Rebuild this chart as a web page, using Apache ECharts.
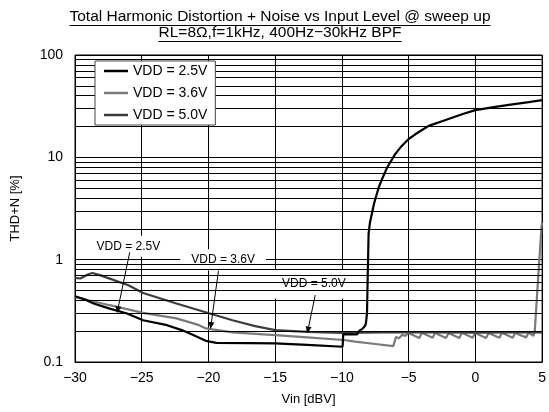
<!DOCTYPE html>
<html><head><meta charset="utf-8">
<script src="https://cdn.jsdelivr.net/npm/echarts@6/dist/echarts.min.js"></script>
<style>html,body{margin:0;padding:0;background:#fff}#c{width:549px;height:412px}</style>
</head><body><div id="c"></div>
<script>
// THD+N vs input level, three supply voltages (sweep up)
const seriesNames = ['VDD = 2.5V', 'VDD = 3.6V', 'VDD = 5.0V'];

const vin25 = [-30,-29.3,-28.6,-27.4,-26.1,-24.9,-23.1,-22,-21.1,-20.2,-19.4,-17,-15,-12.6,-9.95,-9.9,-8.85,-8.8,-8.72,-8.62,-8.55,-8.45,-8.38,-8.28,-8.2,-8.12,-8.06,-8.0,-7.9,-7.6,-7.24,-7.0,-6.62,-6.3,-6.0,-5.5,-5.0,-4.5,-4.0,-3.5,-2.5,-1.0,0,1.5,2.5,4,5];
const thd25 = [0.439,0.411,0.373,0.332,0.298,0.256,0.229,0.205,0.183,0.161,0.154,0.153,0.152,0.147,0.141,0.186,0.186,0.195,0.19,0.205,0.198,0.212,0.205,0.225,0.238,0.30,0.75,1.8,2.3,3.5,5.1,6.1,7.9,9.3,10.8,13.0,15.1,16.8,18.5,20.3,22.5,26.4,28.9,31.1,32.5,34.6,36.2];

const vin36 = [-30,-27.4,-24.9,-22.4,-20.7,-20.2,-18.2,-15,-12.6,-9.85,-9,-7.5,-6.15,-5.95,-5.75,-5.45,-5.25,-5.0,-4.85,-4.2,-4.0,-3.85,-3.2,-3.0,-2.85,-2.2,-2.0,-1.85,-1.2,-1.0,-0.85,-0.2,0,0.15,0.8,1.0,1.15,1.8,2.0,2.15,2.8,3.0,3.15,3.8,4.0,4.15,4.35,4.45,4.58,4.7,4.83,4.95,5];
const thd36 = [0.432,0.359,0.302,0.267,0.229,0.213,0.195,0.183,0.174,0.164,0.158,0.150,0.143,0.176,0.170,0.185,0.180,0.193,0.188,0.172,0.194,0.189,0.173,0.194,0.188,0.172,0.193,0.188,0.172,0.194,0.189,0.173,0.194,0.188,0.172,0.193,0.188,0.173,0.194,0.189,0.173,0.194,0.188,0.174,0.195,0.188,0.180,0.200,0.37,0.65,1.17,2.08,2.3];

const vin50 = [-30,-29.6,-29.0,-28.7,-28.2,-27.4,-26,-24.9,-22.4,-19.9,-18.2,-16.5,-15,-12.6,-9.9,-9.8,-7,-3,0,3,5];
const thd50 = [0.665,0.655,0.72,0.74,0.71,0.653,0.562,0.473,0.373,0.298,0.256,0.224,0.205,0.197,0.193,0.198,0.195,0.195,0.194,0.195,0.195];

// minor log grid values (2..9 per decade)
const minorGrid = [0.2,0.3,0.4,0.5,0.6,0.7,0.8,0.9,2,3,4,5,6,7,8,9,20,30,40,50,60,70,80,90];

// callout labels: text, label centre, arrow tail, arrow tip (data space)
const noteText = ['VDD = 2.5V', 'VDD = 3.6V', 'VDD = 5.0V'];
const noteAt   = [[-26.0, 1.35], [-18.9, 1.0], [-12.1, 0.58]];
const noteTail = [[-25.9, 1.18], [-19.25, 0.78], [-12.0, 0.45]];
const noteTip  = [[-26.85, 0.30], [-19.85, 0.21], [-12.6, 0.19]];

const titleLines = ['Total Harmonic Distortion + Noise vs Input Level @ sweep up', 'RL=8Ω,f=1kHz, 400Hz−30kHz BPF'];

const FONT = '"Liberation Sans", Arial, sans-serif';
const colors = ['#000000', '#7a7a7a', '#3c3c3c'];
const zip = (xs, ys) => xs.map((x, i) => [x, ys[i]]);

const chart = echarts.init(document.getElementById('c'), null, {renderer: 'canvas'});
const minus = v => (v < 0 ? '\u2212' + (-v) : String(v));

chart.setOption({
  animation: false,
  backgroundColor: '#fff',
  grid: {left: 75, right: 5, top: 55, bottom: 50, show: true, borderColor: '#000', borderWidth: 1},
  legend: {
    data: seriesNames, orient: 'vertical', left: 95, top: 61,
    icon: 'rect', itemWidth: 24, itemHeight: 2.5, itemGap: 8,
    padding: [3, 8, 3, 9],
    backgroundColor: '#fff', borderColor: '#444', borderWidth: 1,
    textStyle: {color: '#000', fontSize: 14, fontFamily: FONT, padding: [0, 0, 0, 0]}, z: 10
  },
  xAxis: {
    type: 'value', min: -30, max: 5, interval: 5,
    name: 'Vin [dBV]', nameLocation: 'middle', nameGap: 31,
    nameTextStyle: {color: '#000', fontSize: 13, fontFamily: FONT},
    axisLine: {show: true, lineStyle: {color: '#000', width: 1}},
    axisTick: {show: false},
    axisLabel: {color: '#000', fontSize: 14, fontFamily: FONT, margin: 9, formatter: minus},
    splitLine: {show: true, lineStyle: {color: '#000', width: 1}}
  },
  yAxis: {
    type: 'log', logBase: 10, min: 0.1, max: 100,
    name: 'THD+N [%]', nameLocation: 'middle', nameGap: 53,
    nameTextStyle: {color: '#000', fontSize: 13, fontFamily: FONT},
    axisLine: {show: true, lineStyle: {color: '#000', width: 1}},
    axisTick: {show: false},
    axisLabel: {color: '#000', fontSize: 14, fontFamily: FONT, margin: 12, formatter: v => String(v)},
    splitLine: {show: true, lineStyle: {color: '#000', width: 1}}
  },
  series: [
    {
      name: 'grid', type: 'line', data: [], z: 1, silent: true,
      markLine: {
        silent: true, symbol: 'none', label: {show: false}, animation: false,
        lineStyle: {color: '#000', width: 1, type: 'solid'},
        emphasis: {disabled: true},
        data: minorGrid.map(v => ({yAxis: v}))
      }
    },
    {name: seriesNames[0], type: 'line', data: zip(vin25, thd25), symbol: 'none', z: 5,
     lineStyle: {color: colors[0], width: 2.2}, itemStyle: {color: colors[0]}},
    {name: seriesNames[1], type: 'line', data: zip(vin36, thd36), symbol: 'none', z: 4,
     lineStyle: {color: colors[1], width: 2.2}, itemStyle: {color: colors[1]}},
    {name: seriesNames[2], type: 'line', data: zip(vin50, thd50), symbol: 'none', z: 4,
     lineStyle: {color: colors[2], width: 2.2}, itemStyle: {color: colors[2]}}
  ]
});

// overlay: underlined title lines and arrowed callouts
const ctx = document.createElement('canvas').getContext('2d');
function textWidth(t, size) { ctx.font = size + 'px ' + FONT; return ctx.measureText(t).width; }

const g = [];
const titleY = [17, 33], titleX = 280, titleSize = 15.5;
titleLines.forEach((t, i) => {
  const w = textWidth(t, titleSize);
  g.push({type: 'text', x: titleX, y: titleY[i], z: 20,
    style: {text: t, fill: '#000', font: titleSize + 'px ' + FONT, align: 'center', verticalAlign: 'middle'}});
  g.push({type: 'line', z: 20, shape: {x1: titleX - w / 2, y1: titleY[i] + 8.5, x2: titleX + w / 2, y2: titleY[i] + 8.5},
    style: {stroke: '#000', lineWidth: 1}});
});

const noteSize = 12;
const padX = [8, 11, 9], padY = [4, 4, 8];
noteText.forEach((t, i) => {
  const c = chart.convertToPixel({gridIndex: 0}, noteAt[i]);
  const a = chart.convertToPixel({gridIndex: 0}, noteTail[i]);
  const b = chart.convertToPixel({gridIndex: 0}, noteTip[i]);
  const w = textWidth(t, noteSize), h = 13;
  g.push({type: 'rect', z: 3, shape: {x: c[0] - w / 2 - padX[i], y: c[1] - h / 2 - padY[i], width: w + 2 * padX[i], height: h + 2 * padY[i]},
    style: {fill: '#fff'}});
  g.push({type: 'text', x: c[0], y: c[1], z: 21,
    style: {text: t, fill: '#000', font: noteSize + 'px ' + FONT, align: 'center', verticalAlign: 'middle'}});
  const dx = b[0] - a[0], dy = b[1] - a[1], L = Math.hypot(dx, dy);
  const ux = dx / L, uy = dy / L, hl = 7, hw = 3;
  const bx = b[0] - ux * hl, by = b[1] - uy * hl;
  g.push({type: 'line', z: 21, shape: {x1: a[0], y1: a[1], x2: bx, y2: by}, style: {stroke: '#000', lineWidth: 1}});
  g.push({type: 'polygon', z: 21, shape: {points: [[b[0], b[1]], [bx - uy * hw, by + ux * hw], [bx + uy * hw, by - ux * hw]]},
    style: {fill: '#000'}});
});
chart.setOption({graphic: {elements: g}});
</script></body></html>
